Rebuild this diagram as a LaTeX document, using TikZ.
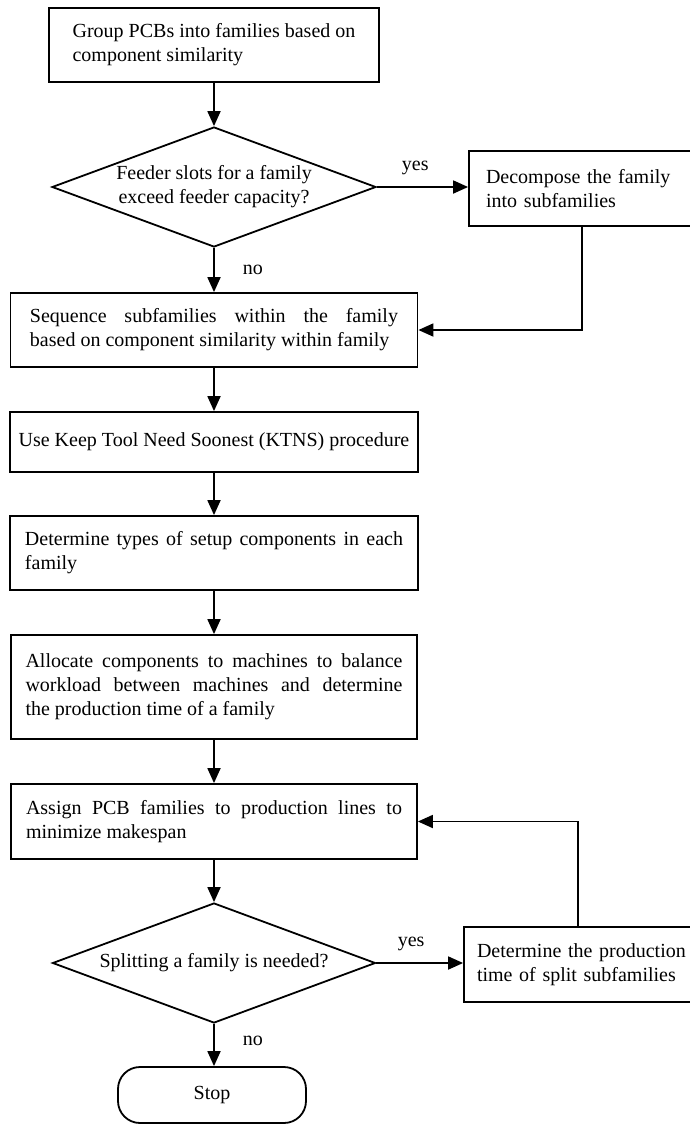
\documentclass[tikz,border=0pt]{standalone}
\usepackage{fontspec}
\setmainfont{Liberation Serif}
\usetikzlibrary{shapes.geometric,arrows.meta}
\begin{document}
\begin{tikzpicture}[x=0.5pt,y=-0.5pt,
  every node/.style={font=\fontsize{10pt}{12pt}\selectfont},
  proc/.style={draw,line width=0.9pt,inner sep=0pt,align=left},
  decision/.style={draw,line width=0.9pt,shape=diamond,aspect=2.7,inner sep=0pt,align=center},
  term/.style={draw,line width=0.9pt,rounded corners=11pt,inner sep=0pt},
  arr/.style={line width=0.9pt,-{Triangle[length=7.5pt,width=6.5pt]}},
  lbl/.style={inner sep=0pt}]
\useasboundingbox (0,0) rectangle (690,1126);
\node[proc,minimum width=165pt,minimum height=37pt] (b1) at (214,45)
  {Group PCBs into families based on\\component similarity};
\node[decision,minimum width=162pt,minimum height=60pt] (d1) at (214,187)
  {Feeder slots for a family\\exceed feeder capacity?};
\node[proc,text width=140pt,inner xsep=8.5pt,minimum height=37.5pt] (b2) at (626,188.5)
  {\makebox[99.5pt][s]{Decompose the family}\\into subfamilies};
\coordinate (b2s) at ([xshift=57pt]b2.south west);
\node[proc,minimum width=203.5pt,minimum height=37pt] (b3) at (214,330)
  {\makebox[184pt][s]{Sequence subfamilies within the family}\\based on component similarity within family};
\node[proc,minimum width=204pt,minimum height=30pt] (b4) at (214,442)
  {Use Keep Tool Need Soonest (KTNS) procedure};
\node[proc,minimum width=204pt,minimum height=37pt] (b5) at (214,553)
  {\makebox[189pt][s]{Determine types of setup components in each}\\family};
\node[proc,minimum width=203pt,minimum height=52pt] (b6) at (214,687)
  {\makebox[188.5pt][s]{Allocate components to machines to balance}\\\makebox[188.5pt][s]{workload between machines and determine}\\the production time of a family};
\node[proc,minimum width=203pt,minimum height=37.5pt] (b7) at (214,821.5)
  {\makebox[188pt][s]{Assign PCB families to production lines to}\\minimize makespan};
\node[decision,minimum width=161.5pt,minimum height=60pt] (d2) at (214,963)
  {Splitting a family is needed?};
\node[proc,text width=140pt,inner xsep=6.5pt,minimum height=37.5pt] (b8) at (617,964.5)
  {Determine the production\\time of split subfamilies};
\coordinate (b8n) at ([xshift=57.5pt]b8.north west);
\node[term,minimum width=94pt,minimum height=28pt] (stop) at (212,1095) {Stop};

\draw[arr] (b1) -- (d1);
\draw[arr] (d1.east) -- (d1.east -| b2.west) node[lbl,pos=0.42,above=5.5pt] {yes};
\draw[arr] (d1) -- (b3) node[lbl,pos=0.5,right=14pt] {no};
\draw[arr] (b2s) |- (b3.east);
\draw[arr] (b3) -- (b4);
\draw[arr] (b4) -- (b5);
\draw[arr] (b5) -- (b6);
\draw[arr] (b6) -- (b7);
\draw[arr] (b7) -- (d2);
\draw[arr] (d2.east) -- (d2.east -| b8.west) node[lbl,pos=0.4,above=5.5pt] {yes};
\draw[arr] (b8n) |- (b7.east);
\draw[arr] (d2.south) -- (d2.south |- stop.north) node[lbl,pos=0.4,right=14pt] {no};
\end{tikzpicture}
\end{document}
